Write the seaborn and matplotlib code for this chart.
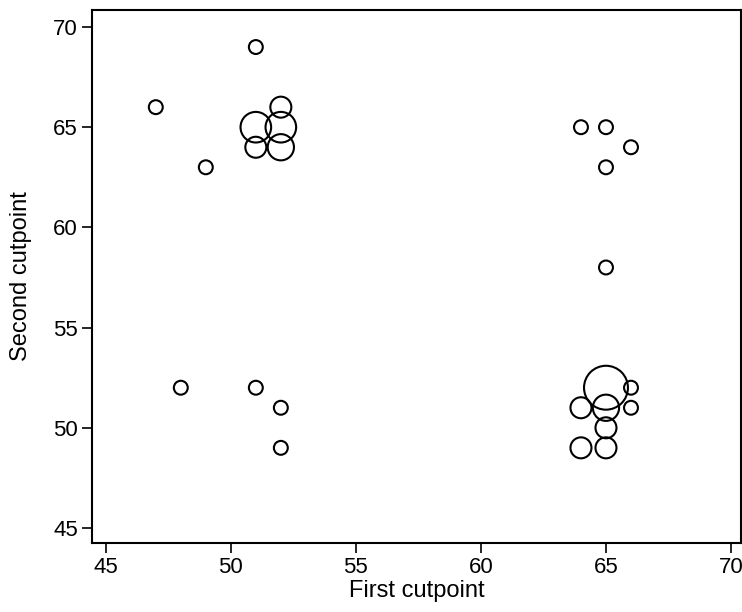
import numpy as np
import pandas as pd
import matplotlib
matplotlib.use("Agg")
import matplotlib.pyplot as plt
import seaborn as sns

# cutpoint pairs and how often each was chosen (marker area ~ count)
first_cut = [47, 49, 51, 51, 51, 52, 52, 52,
             48, 51, 52, 52,
             64, 65, 66, 65, 65,
             65, 66, 64, 65, 66, 65, 64, 65]
second_cut = [66, 63, 69, 65, 64, 66, 65, 64,
              52, 52, 51, 49,
              65, 65, 64, 63, 58,
              52, 52, 51, 51, 51, 50, 49, 49]
count = [1, 1, 1, 4, 2, 2, 4, 3,
         1, 1, 1, 1,
         1, 1, 1, 1, 1,
         8, 1, 2, 3, 1, 2, 2, 2]

x_ticks = [45, 50, 55, 60, 65, 70]
y_ticks = [45, 50, 55, 60, 65, 70]

df = pd.DataFrame({"first": first_cut, "second": second_cut, "n": count})

sns.set_theme(style="ticks")
plt.rcParams["font.family"] = ["Liberation Sans", "DejaVu Sans"]

fig = plt.figure(figsize=(7.42, 6.12), dpi=100)
ax = fig.add_axes([0.124, 0.1127, 0.8747, 0.871])

sns.scatterplot(data=df, x="first", y="second", size="n",
                sizes=(100, 1000), size_norm=(1, 8), legend=False,
                facecolor="none", edgecolor="black", linewidth=1.5, ax=ax)

ax.set_xlim(44.45, 70.4)
ax.set_ylim(44.25, 70.85)
ax.set_xticks(x_ticks)
ax.set_yticks(y_ticks)
ax.tick_params(axis="both", direction="out", length=7, width=1.2,
               labelsize=16, pad=3, color="black", labelcolor="black")
ax.set_xlabel("First cutpoint", fontsize=17, color="black")
ax.set_ylabel("Second cutpoint", fontsize=17, color="black")
ax.xaxis.set_label_coords(0.5, -0.069)
ax.yaxis.set_label_coords(-0.0925, 0.5)
for s in ax.spines.values():
    s.set_visible(True)
    s.set_color("black")
    s.set_linewidth(1.5)

fig.savefig("out.png", dpi=100)
